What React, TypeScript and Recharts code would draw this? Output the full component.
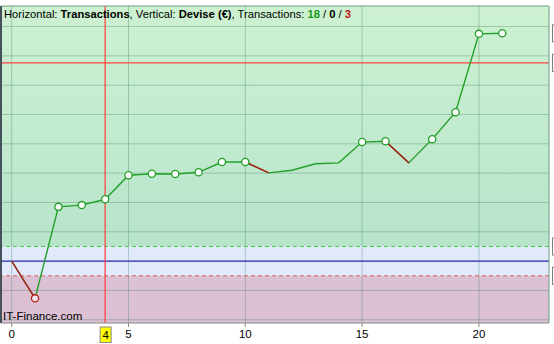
import { LineChart, Line, XAxis, YAxis, ReferenceLine, ReferenceArea } from "recharts";

// trade number on the horizontal axis, account balance (€) on the vertical
const trades = [0, 1, 2, 3, 4, 5, 6, 7, 8, 9, 10, 11, 12, 13, 14, 15, 16, 17, 18, 19, 20, 21];
const equity = [0, -127, 185, 191, 211, 293, 298, 297, 303, 338, 338, 301, 310, 332, 335, 406, 409, 335, 416, 508, 775, 777];
const losingLegs = [0, 1, 10, 11, 16, 17];
const markedTrades = [1, 2, 3, 4, 5, 6, 7, 8, 9, 10, 15, 16, 18, 19, 20, 21];
const losingMarks = [1];

const xTicks = [0, 5, 10, 15, 20];
const yGrid = [-200, -100, 100, 200, 300, 400, 500, 600, 700, 800];
const yTicks = [-200, -150, -100, -50, 0, 50, 100, 150, 200, 250, 300, 350, 400, 450, 500, 550, 600, 650, 700, 750, 800, 850];

const upperBand = 50;
const lowerBand = -50;
const targetLevel = 676;
const cursorTrade = 4;
const lastValue = 777;

const X_MIN = -0.458;
const X_MAX = 23;
const Y_MIN = -211;
const Y_MAX = 870;

const data = trades.map((n, i) => ({
  n,
  equity: equity[i],
  loss: losingLegs.includes(i) ? equity[i] : null,
}));

const GREEN = "#22a028";
const RED = "#b41c1c";

function renderDot(props: any) {
  const { cx, cy, index } = props;
  if (!markedTrades.includes(index)) return <g key={`d${index}`} />;
  const lost = losingMarks.includes(index);
  return (
    <circle
      key={`d${index}`}
      cx={cx}
      cy={cy}
      r={3.6}
      fill={lost ? "#f4e8ee" : "#ffffff"}
      stroke={lost ? RED : GREEN}
      strokeWidth={1.3}
    />
  );
}

// clipped value boxes sitting just right of the axis
function sideBox(props: any) {
  const vb = props.viewBox;
  if (!vb) return null;
  return <rect x={552.5} y={vb.y - 8.5} width={40} height={17} fill="#ffffff" stroke="#808080" strokeWidth={1} />;
}

function cursorBox(props: any) {
  const vb = props.viewBox;
  if (!vb) return null;
  const x = vb.x;
  const y = vb.y + vb.height + 4;
  return (
    <g>
      <rect x={x - 5} y={y} width={11} height={15.5} fill="#ffff00" stroke="#8a8a8a" strokeWidth={1} />
      <text x={x + 0.5} y={y + 12} textAnchor="middle" fontSize={11.5} fontFamily="Liberation Sans, Arial, sans-serif" fill="#000">
        {cursorTrade}
      </text>
    </g>
  );
}

export default function App() {
  return (
    <div style={{ position: "absolute", left: 0, top: 0, width: 554, height: 344, background: "#fff" }}>
      <LineChart width={554} height={344} data={data} margin={{ top: 6, right: 0, bottom: 0, left: 1 }}>
        <defs>
          <linearGradient id="upZone" x1="0" y1="0" x2="0" y2="1">
            <stop offset="0%" stopColor="#cdf1d1" />
            <stop offset="100%" stopColor="#b8e4cc" />
          </linearGradient>
        </defs>
        <XAxis
          dataKey="n"
          type="number"
          domain={[X_MIN, X_MAX]}
          ticks={xTicks}
          allowDataOverflow
          height={21}
          tickSize={4}
          tickMargin={3}
          stroke="#8a8a8a"
          tick={{ fill: "#000", fontSize: 11.5, fontFamily: "Liberation Sans, Arial, sans-serif" }}
        />
        <YAxis
          orientation="right"
          type="number"
          domain={[Y_MIN, Y_MAX]}
          ticks={yTicks}
          allowDataOverflow
          width={5}
          tickSize={3}
          tick={false}
          stroke="#6c9f84"
        />
        <ReferenceArea y1={upperBand} y2={Y_MAX} fill="url(#upZone)" fillOpacity={1} stroke="none" />
        <ReferenceArea y1={lowerBand} y2={upperBand} fill="#e1e9fb" fillOpacity={1} stroke="none" />
        <ReferenceArea y1={Y_MIN} y2={lowerBand} fill="#dbc1d3" fillOpacity={1} stroke="none" />
        {yGrid.map((v) => (
          <ReferenceLine key={`gy${v}`} y={v} stroke="#3c7a50" strokeOpacity={0.32} />
        ))}
        {xTicks.map((v) => (
          <ReferenceLine key={`gx${v}`} x={v} stroke="#3c7a50" strokeOpacity={0.32} />
        ))}
        <ReferenceLine y={upperBand} stroke="#3fcf3f" strokeDasharray="4 3" label={sideBox} />
        <ReferenceLine y={lowerBand} stroke="#d26060" strokeDasharray="4 3" label={sideBox} />
        <ReferenceLine y={0} stroke="#2424b4" strokeWidth={1.2} />
        <ReferenceLine y={targetLevel} stroke="#ff4040" strokeWidth={1.2} label={sideBox} />
        <ReferenceLine y={lastValue} stroke="none" label={sideBox} />
        <ReferenceLine x={cursorTrade} stroke="#ff3c3c" strokeWidth={1.2} label={cursorBox} />
        <ReferenceLine y={Y_MAX} stroke="#6c9f84" />
        <ReferenceLine x={X_MIN} stroke="#45525c" strokeWidth={2} />
        <Line dataKey="equity" stroke={GREEN} strokeWidth={1.4} dot={false} activeDot={false} isAnimationActive={false} />
        <Line dataKey="loss" stroke={RED} strokeWidth={1.4} dot={false} activeDot={false} connectNulls={false} isAnimationActive={false} />
        <Line dataKey="equity" stroke="none" dot={renderDot} activeDot={false} isAnimationActive={false} />
      </LineChart>
      <div
        style={{
          position: "absolute",
          left: 4,
          top: 8,
          fontFamily: "Liberation Sans, Arial, sans-serif",
          fontSize: 11.2,
          color: "#000",
          whiteSpace: "nowrap",
          lineHeight: "12px",
        }}
      >
        Horizontal: <b>Transactions</b>, Vertical: <b>Devise (€)</b>, Transactions:{" "}
        <b style={{ color: "#1a9a1a" }}>18</b> / <b>0</b> / <b style={{ color: "#c01010" }}>3</b>
      </div>
      <div
        style={{
          position: "absolute",
          left: 3,
          top: 310,
          fontFamily: "Liberation Sans, Arial, sans-serif",
          fontSize: 11.5,
          color: "#000",
          whiteSpace: "nowrap",
          lineHeight: "12px",
        }}
      >
        IT-Finance.com
      </div>
    </div>
  );
}
